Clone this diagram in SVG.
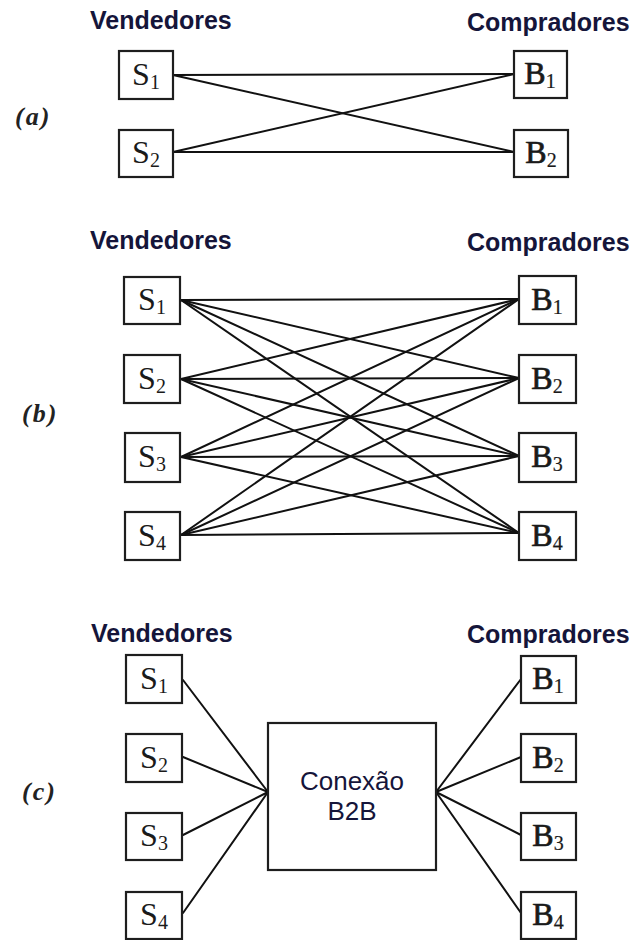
<svg xmlns="http://www.w3.org/2000/svg" width="638" height="940" viewBox="0 0 638 940">
  <style>
    .bg { fill: #ffffff; }
    .box { fill: #ffffff; stroke: #1e1e1e; stroke-width: 2.2; }
    .hub { fill: #ffffff; stroke: #1e1e1e; stroke-width: 2.2; }
    .link { stroke: #111111; stroke-width: 2; fill: none; stroke-linecap: round; }
    .head { font-family: "Liberation Sans", Arial, sans-serif; font-weight: bold; font-size: 25px; fill: #15153a; }
    .panel { font-family: "Liberation Serif", "Times New Roman", serif; font-weight: bold; font-style: italic; font-size: 26px; fill: #222222; letter-spacing: 2px; }
    .s { font-family: "Liberation Serif", "Times New Roman", serif; font-size: 32px; fill: #1a1a1a; text-anchor: middle; }
    .b { font-family: "Liberation Serif", "Times New Roman", serif; font-size: 32px; fill: #1a1a1a; stroke: #1a1a1a; stroke-width: 0.7; text-anchor: middle; }
    .sub { font-size: 20px; }
    .b .sub { stroke-width: 0.2; }
    .hubtxt { font-family: "Liberation Sans", Arial, sans-serif; font-size: 26px; fill: #15153a; text-anchor: middle; }
  </style>
  <rect class="bg" x="0" y="0" width="638" height="940"/>

  <!-- column headings and panel letters -->
  <g id="labels">
    <text class="head" x="90" y="29">Vendedores</text>
    <text class="head" x="467" y="31">Compradores</text>
    <text class="panel" x="15" y="125">(a)</text>

    <text class="head" x="90" y="249">Vendedores</text>
    <text class="head" x="467" y="251">Compradores</text>
    <text class="panel" x="22" y="422">(b)</text>

    <text class="head" x="91" y="642">Vendedores</text>
    <text class="head" x="467" y="643">Compradores</text>
    <text class="panel" x="22" y="800">(c)</text>
  </g>

  <!-- connectors -->
  <g id="connectors">
    <!-- (a) direct links -->
    <line class="link" x1="173" y1="75" x2="514" y2="74"/>
    <line class="link" x1="173" y1="75" x2="514" y2="152"/>
    <line class="link" x1="173" y1="152" x2="514" y2="74"/>
    <line class="link" x1="173" y1="152" x2="514" y2="152"/>

    <!-- (b) every seller to every buyer -->
    <line class="link" x1="181" y1="300" x2="519" y2="299"/>
    <line class="link" x1="181" y1="300" x2="519" y2="378"/>
    <line class="link" x1="181" y1="300" x2="519" y2="456"/>
    <line class="link" x1="181" y1="300" x2="519" y2="533"/>
    <line class="link" x1="181" y1="379" x2="519" y2="299"/>
    <line class="link" x1="181" y1="379" x2="519" y2="378"/>
    <line class="link" x1="181" y1="379" x2="519" y2="456"/>
    <line class="link" x1="181" y1="379" x2="519" y2="533"/>
    <line class="link" x1="181" y1="457" x2="519" y2="299"/>
    <line class="link" x1="181" y1="457" x2="519" y2="378"/>
    <line class="link" x1="181" y1="457" x2="519" y2="456"/>
    <line class="link" x1="181" y1="457" x2="519" y2="533"/>
    <line class="link" x1="181" y1="535" x2="519" y2="299"/>
    <line class="link" x1="181" y1="535" x2="519" y2="378"/>
    <line class="link" x1="181" y1="535" x2="519" y2="456"/>
    <line class="link" x1="181" y1="535" x2="519" y2="533"/>

    <!-- (c) links through the hub -->
    <line class="link" x1="183" y1="680" x2="268" y2="792"/>
    <line class="link" x1="183" y1="757" x2="268" y2="792"/>
    <line class="link" x1="183" y1="835" x2="268" y2="792"/>
    <line class="link" x1="183" y1="913" x2="268" y2="792"/>
    <line class="link" x1="436" y1="792" x2="521" y2="679"/>
    <line class="link" x1="436" y1="792" x2="521" y2="757"/>
    <line class="link" x1="436" y1="792" x2="521" y2="835"/>
    <line class="link" x1="436" y1="792" x2="521" y2="913"/>
  </g>

  <!-- (a) nodes -->
  <g id="a-S1"><rect class="box" x="119" y="51" width="54" height="48"/><text class="s" x="146" y="85">S<tspan class="sub" dy="4">1</tspan></text></g>
  <g id="a-S2"><rect class="box" x="119" y="130" width="54" height="47"/><text class="s" x="146" y="163">S<tspan class="sub" dy="4">2</tspan></text></g>
  <g id="a-B1"><rect class="box" x="514" y="51" width="53" height="47"/><text class="b" x="540" y="84">B<tspan class="sub" dy="4">1</tspan></text></g>
  <g id="a-B2"><rect class="box" x="514" y="130" width="54" height="47"/><text class="b" x="541" y="163">B<tspan class="sub" dy="4">2</tspan></text></g>

  <!-- (b) nodes -->
  <g id="b-S1"><rect class="box" x="124" y="277" width="56" height="47"/><text class="s" x="152" y="310">S<tspan class="sub" dy="4">1</tspan></text></g>
  <g id="b-S2"><rect class="box" x="124" y="355" width="56" height="48"/><text class="s" x="152" y="389">S<tspan class="sub" dy="4">2</tspan></text></g>
  <g id="b-S3"><rect class="box" x="125" y="433" width="55" height="49"/><text class="s" x="152" y="467">S<tspan class="sub" dy="4">3</tspan></text></g>
  <g id="b-S4"><rect class="box" x="125" y="512" width="55" height="48"/><text class="s" x="152" y="546">S<tspan class="sub" dy="4">4</tspan></text></g>
  <g id="b-B1"><rect class="box" x="519" y="276" width="57" height="48"/><text class="b" x="547" y="310">B<tspan class="sub" dy="4">1</tspan></text></g>
  <g id="b-B2"><rect class="box" x="519" y="355" width="57" height="48"/><text class="b" x="547" y="389">B<tspan class="sub" dy="4">2</tspan></text></g>
  <g id="b-B3"><rect class="box" x="519" y="433" width="57" height="49"/><text class="b" x="547" y="467">B<tspan class="sub" dy="4">3</tspan></text></g>
  <g id="b-B4"><rect class="box" x="519" y="512" width="57" height="48"/><text class="b" x="547" y="546">B<tspan class="sub" dy="4">4</tspan></text></g>

  <!-- (c) nodes -->
  <g id="c-S1"><rect class="box" x="126" y="655" width="56" height="48"/><text class="s" x="154" y="689">S<tspan class="sub" dy="4">1</tspan></text></g>
  <g id="c-S2"><rect class="box" x="126" y="734" width="56" height="48"/><text class="s" x="154" y="768">S<tspan class="sub" dy="4">2</tspan></text></g>
  <g id="c-S3"><rect class="box" x="126" y="813" width="56" height="47"/><text class="s" x="154" y="846">S<tspan class="sub" dy="4">3</tspan></text></g>
  <g id="c-S4"><rect class="box" x="126" y="892" width="56" height="47"/><text class="s" x="154" y="925">S<tspan class="sub" dy="4">4</tspan></text></g>
  <g id="c-hub"><rect class="hub" x="268" y="723" width="168" height="147"/><text class="hubtxt" x="352" y="790">Conexão</text><text class="hubtxt" x="352" y="820">B2B</text></g>
  <g id="c-B1"><rect class="box" x="521" y="656" width="55" height="47"/><text class="b" x="548" y="689">B<tspan class="sub" dy="4">1</tspan></text></g>
  <g id="c-B2"><rect class="box" x="521" y="734" width="55" height="48"/><text class="b" x="548" y="768">B<tspan class="sub" dy="4">2</tspan></text></g>
  <g id="c-B3"><rect class="box" x="521" y="813" width="55" height="47"/><text class="b" x="548" y="846">B<tspan class="sub" dy="4">3</tspan></text></g>
  <g id="c-B4"><rect class="box" x="521" y="892" width="55" height="47"/><text class="b" x="548" y="925">B<tspan class="sub" dy="4">4</tspan></text></g>
</svg>
